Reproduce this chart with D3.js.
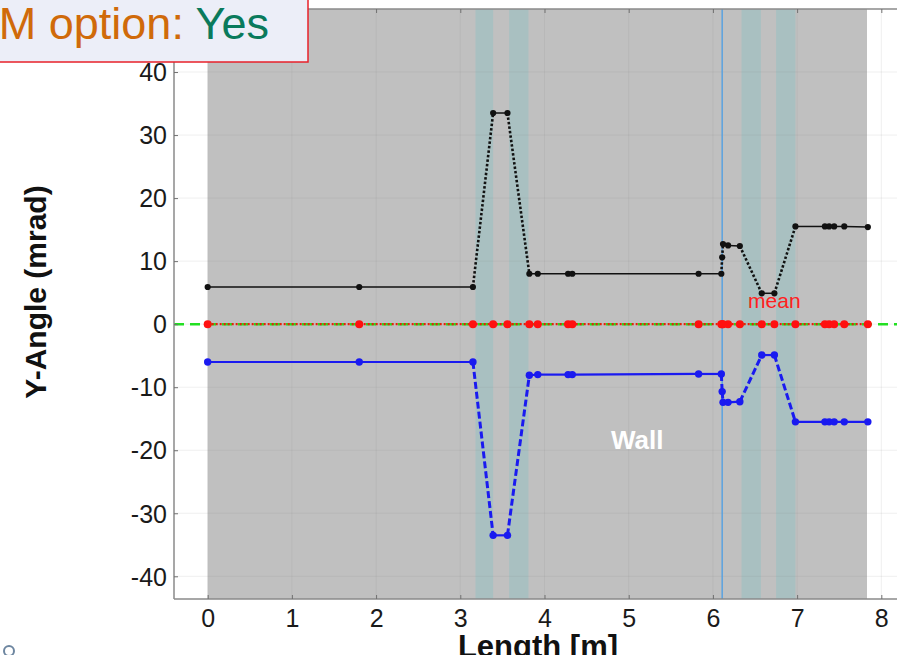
<!DOCTYPE html>
<html>
<head>
<meta charset="utf-8">
<script src="https://cdn.jsdelivr.net/npm/d3@7"></script>
<style>
  html, body { margin: 0; padding: 0; background: #ffffff; }
  svg { display: block; font-family: "Liberation Sans", Arial, sans-serif; }
</style>
</head>
<body>
<svg id="chart" width="897" height="655"></svg>
<script>
// ---- data ----
const lengths   = [0, 1.8, 3.15, 3.39, 3.56, 3.82, 3.92, 4.28, 4.33, 5.83, 6.10, 6.11, 6.12, 6.18, 6.32, 6.58, 6.73, 6.98, 7.33, 7.38, 7.44, 7.56, 7.84];
const upperVals = [5.9, 5.9, 5.9, 33.5, 33.5, 8.0, 8.0, 8.0, 8.0, 8.0, 8.0, 10.6, 12.7, 12.5, 12.4, 4.9, 4.9, 15.5, 15.5, 15.5, 15.5, 15.5, 15.4];
const lowerVals = [-6.0, -6.0, -6.0, -33.5, -33.5, -8.1, -8.0, -8.0, -8.0, -7.9, -7.9, -10.7, -12.4, -12.4, -12.3, -4.9, -4.9, -15.5, -15.5, -15.5, -15.5, -15.5, -15.5];
const meanVals  = [0, 0, 0, 0, 0, 0, 0, 0, 0, 0, 0, 0, 0, 0, 0, 0, 0, 0, 0, 0, 0, 0, 0];
const wallRange = [0, 7.83];
const bandStarts = [3.18, 3.58, 6.34, 6.75];
const bandEnds   = [3.39, 3.81, 6.57, 6.98];
const markerX = 6.11;
const xTicks = [0, 1, 2, 3, 4, 5, 6, 7, 8];
const yTicks = [-40, -30, -20, -10, 0, 10, 20, 30, 40];
const titleParts = ["M option: ", "Yes"];
const xLabel = "Length [m]";
const yLabel = "Y-Angle (mrad)";
const wallLabel = "Wall";
const meanLabel = "mean";

// ---- layout ----
const svg = d3.select("#chart");
const pLeft = 174, pRight = 915, pTop = 9, pBottom = 599;
const x = d3.scaleLinear().domain([-0.4, 8.4]).range([pLeft, pRight]);
const y = d3.scaleLinear().domain([-43.6, 50]).range([pBottom, pTop]);

svg.append("defs").append("clipPath").attr("id", "plotclip")
  .append("rect").attr("x", pLeft).attr("y", pTop).attr("width", 897 - pLeft).attr("height", pBottom - pTop);

const plot = svg.append("g").attr("clip-path", "url(#plotclip)");

// wall gray region
plot.append("rect")
  .attr("x", x(wallRange[0])).attr("y", pTop)
  .attr("width", x(wallRange[1]) - x(wallRange[0])).attr("height", pBottom - pTop)
  .attr("fill", "#c0c0c0");

// teal bands
plot.selectAll("rect.band").data(bandStarts.map((s, i) => [s, bandEnds[i]])).enter()
  .append("rect").attr("class", "band")
  .attr("x", d => x(d[0])).attr("y", pTop)
  .attr("width", d => x(d[1]) - x(d[0])).attr("height", pBottom - pTop)
  .attr("fill", "#a9c0c1");

// gridlines
plot.selectAll("line.gx").data(xTicks).enter().append("line")
  .attr("x1", d => x(d)).attr("x2", d => x(d)).attr("y1", pTop).attr("y2", pBottom)
  .attr("stroke", "#808080").attr("stroke-opacity", 0.13).attr("stroke-width", 1);
plot.selectAll("line.gy").data(yTicks).enter().append("line")
  .attr("y1", d => y(d)).attr("y2", d => y(d)).attr("x1", pLeft).attr("x2", 897)
  .attr("stroke", "#808080").attr("stroke-opacity", 0.13).attr("stroke-width", 1);

// vertical marker
plot.append("line")
  .attr("x1", x(markerX)).attr("x2", x(markerX)).attr("y1", pTop).attr("y2", pBottom)
  .attr("stroke", "#5aa2e0").attr("stroke-width", 1.5);

// green dashed reference at 0
plot.append("line")
  .attr("x1", pLeft).attr("x2", 897).attr("y1", y(0)).attr("y2", y(0))
  .attr("stroke", "#22e022").attr("stroke-width", 2.5).attr("stroke-dasharray", "10,6");

// series drawing helper: flat segments solid, sloped segments patterned
function drawSeries(vals, color, flatW, slopeW, dash, r) {
  const g = plot.append("g");
  for (let i = 0; i < lengths.length - 1; i++) {
    const flat = Math.abs(vals[i + 1] - vals[i]) < 0.6;
    g.append("line")
      .attr("x1", x(lengths[i])).attr("y1", y(vals[i]))
      .attr("x2", x(lengths[i + 1])).attr("y2", y(vals[i + 1]))
      .attr("stroke", color)
      .attr("stroke-width", flat ? flatW : slopeW)
      .attr("stroke-dasharray", flat ? null : dash);
  }
  g.selectAll("circle").data(lengths).enter().append("circle")
    .attr("cx", (d) => x(d)).attr("cy", (d, i) => y(vals[i])).attr("r", r)
    .attr("fill", color);
}

// mean (red dotted over green)
plot.append("line")
  .attr("x1", x(lengths[0])).attr("x2", x(lengths[lengths.length - 1]))
  .attr("y1", y(meanVals[0])).attr("y2", y(meanVals[0]))
  .attr("stroke", "#e8200a").attr("stroke-width", 2.2).attr("stroke-dasharray", "2,2");
plot.selectAll("circle.mean").data(lengths).enter().append("circle")
  .attr("cx", d => x(d)).attr("cy", (d, i) => y(meanVals[i])).attr("r", 4)
  .attr("fill", "#ff1010");

drawSeries(upperVals, "#111111", 1.5, 2.6, "2.5,2", 3.1);
drawSeries(lowerVals, "#1a1af0", 2.2, 3, "7,3", 3.7);

// labels in plot
plot.append("text").attr("x", x(6.73)).attr("y", 308)
  .attr("text-anchor", "middle").attr("font-size", 21).attr("fill", "#ff2020").text(meanLabel);
plot.append("text").attr("x", x(5.1)).attr("y", 449)
  .attr("text-anchor", "middle").attr("font-size", 26).attr("font-weight", "bold")
  .attr("fill", "#ffffff").text(wallLabel);

// axes frame
const axisColor = "#8a8a8a";
svg.append("line").attr("x1", pLeft).attr("x2", pLeft).attr("y1", pTop).attr("y2", pBottom)
  .attr("stroke", axisColor).attr("stroke-width", 1.5);
svg.append("line").attr("x1", pLeft).attr("x2", 897).attr("y1", pBottom).attr("y2", pBottom)
  .attr("stroke", axisColor).attr("stroke-width", 1.5);
svg.append("line").attr("x1", pLeft).attr("x2", 897).attr("y1", pTop).attr("y2", pTop)
  .attr("stroke", axisColor).attr("stroke-width", 1.5);

const fmt = d => String(d);
const xAxis = svg.append("g").attr("transform", `translate(0,${pBottom})`)
  .call(d3.axisBottom(x).tickValues(xTicks).tickSize(-4).tickPadding(10).tickFormat(fmt));
const xAxisTop = svg.append("g").attr("transform", `translate(0,${pTop})`)
  .call(d3.axisTop(x).tickValues(xTicks).tickSize(-4).tickFormat(""));
const yAxis = svg.append("g").attr("transform", `translate(${pLeft},0)`)
  .call(d3.axisLeft(y).tickValues(yTicks).tickSize(-4).tickPadding(7).tickFormat(fmt));
[xAxis, yAxis, xAxisTop].forEach(a => {
  a.select(".domain").remove();
  a.selectAll(".tick line").attr("stroke", "#707070").attr("stroke-width", 1);
  a.selectAll(".tick text").attr("font-size", 25).attr("fill", "#1a1a1a")
    .attr("font-family", "'Liberation Sans', Arial, sans-serif");
});
yAxis.selectAll(".tick text").attr("dy", "0.35em");
xAxis.selectAll(".tick text").attr("dy", "0.71em");

// axis titles
svg.append("text").attr("x", 538).attr("y", 657).attr("text-anchor", "middle")
  .attr("font-size", 31).attr("font-weight", "bold").attr("fill", "#111").text(xLabel);
svg.append("text").attr("transform", "translate(46,292) rotate(-90)").attr("text-anchor", "middle")
  .attr("font-size", 30).attr("font-weight", "bold").attr("fill", "#111").text(yLabel);

// title box
svg.append("rect").attr("x", -10).attr("y", -10).attr("width", 318).attr("height", 72)
  .attr("fill", "#eceef8").attr("stroke", "#e8202a").attr("stroke-width", 1.5);
const t = svg.append("text").attr("x", 269).attr("y", 39).attr("text-anchor", "end")
  .attr("font-size", 45);
t.append("tspan").attr("fill", "#d06a0a").text(titleParts[0]);
t.append("tspan").attr("fill", "#0a7a5c").text(titleParts[1]);

// small icon bottom-left
svg.append("circle").attr("cx", 9).attr("cy", 651).attr("r", 5)
  .attr("fill", "none").attr("stroke", "#6d86a0").attr("stroke-width", 2);
</script>
</body>
</html>
